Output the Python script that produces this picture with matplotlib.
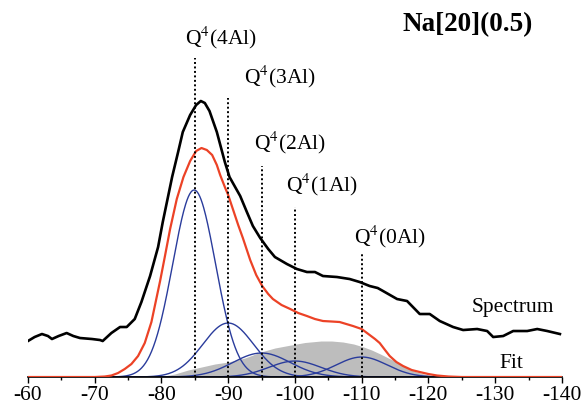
import numpy as np
import matplotlib
matplotlib.use("Agg")
import matplotlib.pyplot as plt

plt.rcParams['font.family'] = ['Liberation Serif', 'DejaVu Serif']
plt.rcParams['mathtext.fontset'] = 'stix'
plt.rcParams['axes.unicode_minus'] = False

# chemical shift (ppm) and intensity (arbitrary units)
spec_ppm = [-60, -61, -62.1, -63.0, -63.6, -64.6, -65.8, -66.8, -67.8, -69.6, -70.8, -71.2,
            -72.5, -73.8, -74.8, -76.0, -77.0, -78.3, -79.5, -80.2, -81.6, -82.5,
            -83.2, -84.3, -85.2, -85.9, -86.5, -87.2, -88.3, -89.5, -90.2, -91.8,
            -92.8, -93.7, -94.8, -96.0, -97.0, -98.8, -100.3, -101.8, -103.0, -104.2,
            -106.3, -108.2, -109.7, -111.2, -112.4, -113.2, -115.3, -116.8, -118.7,
            -120.2, -121.7, -123.7, -125.2, -127.3, -128.8, -129.7, -131.2, -132.7,
            -134.8, -136.3, -137.8, -139.7]
spec_int = [36, 40, 43, 41, 38, 41, 44, 41, 39, 38, 37, 36,
            44, 50, 50, 58, 75, 101, 130, 155, 200, 225,
            245, 262, 272, 276, 274, 266, 245, 215, 200, 181,
            165, 151, 139, 128, 120, 113, 108, 105, 105, 101,
            100, 98, 95, 91, 89, 86, 78, 76, 63,
            63, 56, 50, 47, 48, 46, 40, 41, 46,
            46, 48, 46, 43]

fit_ppm = [-60, -70, -71.5, -72.5, -73.5, -74.5, -75.5, -76.5, -77.5, -78.5, -79.8,
           -80.5, -81.3, -82.3, -83.3, -84.3, -85.2, -86.0, -86.8, -87.6, -88.3,
           -88.8, -89.5, -90.0, -90.8, -91.5, -92.2, -93.3, -94.2, -95.1, -96.0,
           -96.7, -98.0, -99.3, -100.5, -101.8, -103.0, -104.2, -105.5, -106.7,
           -107.7, -108.7, -110.0, -111.2, -112.0, -112.7, -113.5, -114.2, -115.2,
           -116.2, -117.5, -118.7, -120.0, -121.3, -123.0, -125.0, -140]
fit_int = [0, 0, 0.5, 1.5, 4, 8, 13, 21, 34, 55, 96,
           120, 148, 178, 200, 216, 226, 229, 227, 222, 212,
           202, 190, 182, 166, 152, 139, 117, 102, 91, 83,
           78, 72, 68, 64, 61, 58, 56, 55.5, 55,
           53, 51, 48, 42, 38, 34, 27, 21, 15,
           11, 7, 5, 3, 1.5, 0.5, 0, 0]

gray_ppm = [-78, -80, -82, -84, -86, -88, -90, -92.5, -94.9, -97, -99.4, -101.5,
            -103.9, -105.5, -107.2, -108.8, -110.3, -111.5, -112.8, -114, -115.3,
            -116.5, -117.8, -119, -120, -121.7]
gray_int = [0, 0.5, 3, 7, 10, 13, 15, 19, 25, 29, 32, 34.5,
            36, 36, 35, 33, 30, 27, 23, 19, 15,
            10, 6, 3.5, 2, 0]

# Q4(nAl) fit components: position, amplitude, width
labels = ['Q$^4$(4Al)', 'Q$^4$(3Al)', 'Q$^4$(2Al)', 'Q$^4$(1Al)', 'Q$^4$(0Al)']
centers = [-84.9, -90, -95, -100, -110]
amps = [187, 54, 24, 16, 20]
sigmas = [3.2, 3.8, 4.3, 3.9, 3.8]

fig = plt.figure(figsize=(5.82, 4.10), dpi=100)
ax = fig.add_axes([0.048, 0.078, 0.9175, 0.922])

ax.fill_between(gray_ppm, gray_int, 0, color='#bdbdbd', lw=0, zorder=1)

x = np.linspace(-60, -140, 800)
for c, a, s in zip(centers, amps, sigmas):
    ax.plot(x, a * np.exp(-(x - c) ** 2 / (2 * s ** 2)), color='#2a3c9c', lw=1.0, zorder=2)

ax.plot(fit_ppm, fit_int, color='#ec4226', lw=1.6, zorder=3)
ax.plot(spec_ppm, spec_int, color='black', lw=1.9, zorder=4)

# dotted markers and labels
line_pos = [-85, -90, -95, -100, -110]
line_tops = [319, 279, 211, 170, 124]
label_x = [-83.6, -92.3, -93.9, -98.7, -108.9]
label_y = [340, 301, 235, 193, 141]
for c, top, lab, lx, ly in zip(line_pos, line_tops, labels, label_x, label_y):
    ax.plot([c, c], [0, top], color='black', lw=1.4, ls=(0, (1, 1.3)), zorder=5)
    ax.text(lx, ly, lab, fontsize=15.5, ha='left', va='center')

ax.text(-126.5, 71, 'Spectrum', fontsize=15.5, ha='left', va='center')
ax.text(-130.7, 15, 'Fit', fontsize=15.5, ha='left', va='center')
ax.text(-125.9, 353, 'Na[20](0.5)', fontsize=19.5, fontweight='bold', ha='center', va='center')

ax.set_xlim(-60, -140)
ax.set_ylim(0, 378)
ax.set_xticks(np.arange(-60, -141, -10))
ax.set_xticks(np.arange(-65, -140, -10), minor=True)
ax.tick_params(axis='x', which='major', direction='out', length=4, width=1, labelsize=15.5, pad=2)
ax.tick_params(axis='x', which='minor', direction='out', length=2.5, width=1)
ax.set_yticks([])
for side in ['left', 'right', 'top']:
    ax.spines[side].set_visible(False)
ax.spines['bottom'].set_linewidth(1.2)

fig.savefig('out.png', dpi=100)
